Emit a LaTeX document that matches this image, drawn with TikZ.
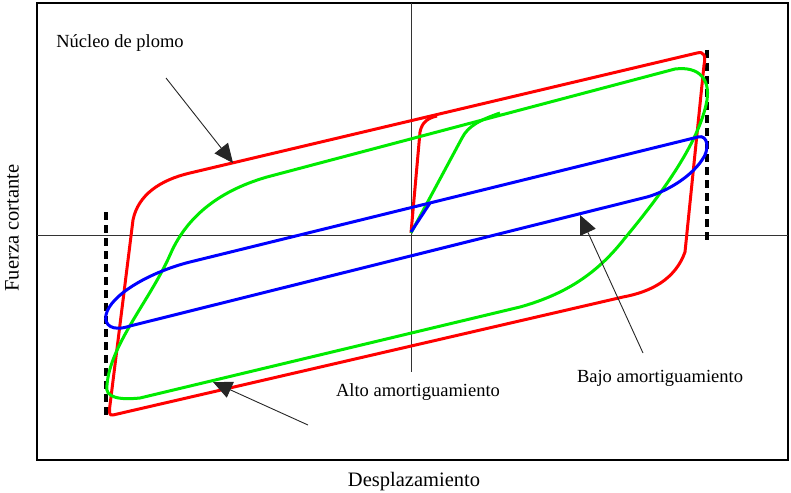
\documentclass[tikz,border=0pt]{standalone}
\usepackage{fontspec}
\setmainfont{Liberation Serif}
\usetikzlibrary{arrows.meta}

\definecolor{loopred}{RGB}{255,0,0}
\definecolor{loopgreen}{RGB}{0,235,0}
\definecolor{loopblue}{RGB}{0,0,255}

\tikzset{
  loop/.style={line width=3pt,line join=round},
  limit/.style={line width=3.5pt,dash pattern=on 8pt off 5pt},
  pointer/.style={-{Triangle[length=19pt,width=17pt]},line width=0.9pt,black!85},
  tag/.style={font=\fontsize{18.5}{22}\selectfont},
  axlabel/.style={font=\fontsize{20.5}{24}\selectfont}
}

\begin{document}
\begin{tikzpicture}[x=1pt,y=-1pt]
  \useasboundingbox (0,0) rectangle (791,492);

  % Frame
  \draw[line width=1.5pt] (37,3) rectangle (788,460);

  % Axes
  \draw[gray!40!black,line width=1pt] (37,235) -- (788,235);
  \draw[gray!40!black,line width=1pt] (411,3) -- (411,372);

  % Displacement limits
  \draw[limit] (106,212) -- (106,415);
  \draw[limit] (707,50) -- (707,243);

  % Lead core loop
  \draw[loop,loopred] (133,220) .. controls (138,195) and (160,180) .. (190,173)
    -- (697,53) .. controls (704,51) and (706,56) .. (704,65)
    -- (685,252) .. controls (675,280) and (650,292) .. (623,297)
    -- (113,415) .. controls (109,416) and (109,412) .. (110,405) -- cycle;
  \draw[loop,loopred] (411,233) -- (420,132) .. controls (422,122) and (428,118) .. (437,116);

  % High damping loop
  \draw[loop,loopgreen] (107,385) .. controls (104,398) and (120,400) .. (140,398)
    -- (520,307) .. controls (570,293) and (600,270) .. (625,238)
    .. controls (665,190) and (700,140) .. (707,100)
    .. controls (710,80) and (700,66) .. (675,69)
    -- (267,177) .. controls (215,192) and (185,220) .. (170,255)
    .. controls (150,300) and (110,345) .. (107,385) -- cycle;
  \draw[loop,loopgreen] (411,233) -- (462,138) .. controls (468,126) and (480,120) .. (500,113);

  % Low damping loop
  \draw[loop,loopblue] (190,262) -- (698,137) .. controls (708,134) and (710,150) .. (702,160)
    .. controls (690,178) and (665,192) .. (647,197)
    -- (130,326) .. controls (112,332) and (104,325) .. (106,315)
    .. controls (110,295) and (150,272) .. (190,262) -- cycle;
  \draw[loop,loopblue] (411,232) -- (430,203);

  % Labels
  \node[tag] (nucleo) at (120,43) {Núcleo de plomo};
  \node[tag] (alto) at (418,392) {Alto amortiguamiento};
  \node[tag] (bajo) at (660,378) {Bajo amortiguamiento};
  \node[axlabel,rotate=90] (fuerza) at (12,228) {Fuerza cortante};
  \node[axlabel] (despl) at (414,482) {Desplazamiento};

  % Pointers
  \coordinate (nucleoA) at (166,78);
  \coordinate (nucleoB) at (233,163);
  \coordinate (altoA) at (308,425);
  \coordinate (altoB) at (213,382);
  \coordinate (bajoA) at (643,353);
  \coordinate (bajoB) at (580,215);
  \draw[pointer] (nucleoA) -- (nucleoB);
  \draw[pointer] (altoA) -- (altoB);
  \draw[pointer] (bajoA) -- (bajoB);

\end{tikzpicture}
\end{document}
